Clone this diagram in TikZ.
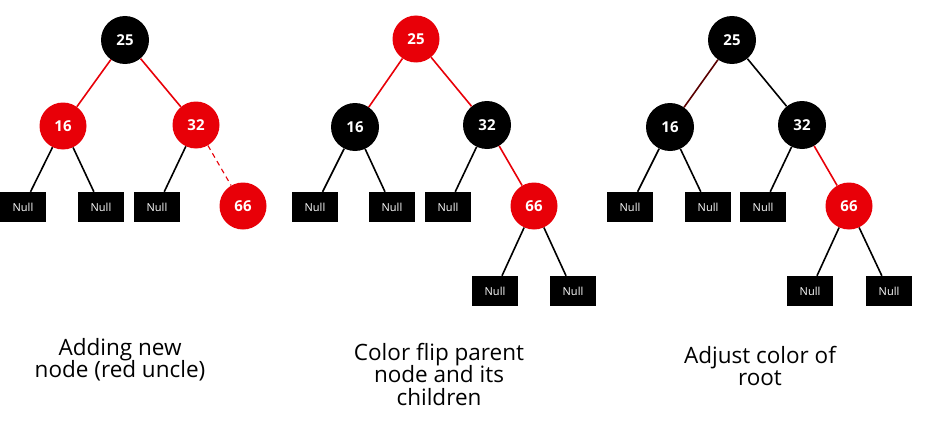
\documentclass[tikz,border=0pt]{standalone}
\usepackage{fontspec}
\setmainfont{Open Sans}
\definecolor{rbred}{RGB}{232,0,8}
\definecolor{darkred}{RGB}{90,0,0}
\begin{document}
\begin{tikzpicture}[x=1pt,y=-1pt,
  blk/.style={circle,fill=black,minimum size=48pt,inner sep=0pt,text=white,font=\fontsize{15}{15}\selectfont\bfseries},
  rd/.style={circle,fill=rbred,minimum size=47pt,inner sep=0pt,text=white,font=\fontsize{15}{15}\selectfont\bfseries},
  nullbox/.style={rectangle,fill=black,minimum width=46pt,minimum height=30pt,inner sep=0pt,text=white,font=\fontsize{11}{11}\selectfont},
  bedge/.style={draw=black,line width=1.6pt},
  redge/.style={draw=rbred,line width=1.6pt},
  caption/.style={align=center,anchor=north,inner sep=0pt,font=\fontsize{22.5}{22.5}\selectfont}
]
\useasboundingbox (0,0) rectangle (928,428);
% Tree 1
\node[blk] (a25) at (125,40) {25};
\node[rd] (a16) at (63,126) {16};
\node[rd] (a32) at (196,125) {32};
\node[nullbox] (an1) at (23,207) {Null};
\node[nullbox] (an2) at (101,207) {Null};
\node[nullbox] (an3) at (157,207) {Null};
\node[rd] (a66) at (243,206) {66};
\draw[redge] (a25) -- (a16);
\draw[redge] (a25) -- (a32);
\draw[bedge] (a16) -- (an1);
\draw[bedge] (a16) -- (an2);
\draw[bedge] (a32) -- (an3);
\draw[draw=rbred,line width=1.1pt,dash pattern=on 5pt off 4pt] (a32) -- (a66);
% Tree 2
\node[rd] (b25) at (416,39) {25};
\node[blk] (b16) at (355,127) {16};
\node[blk] (b32) at (487,125) {32};
\node[nullbox] (bn1) at (315,207) {Null};
\node[nullbox] (bn2) at (392,207) {Null};
\node[nullbox] (bn3) at (448,207) {Null};
\node[rd] (b66) at (534,206) {66};
\node[nullbox] (bn4) at (495,291) {Null};
\node[nullbox] (bn5) at (573,291) {Null};
\draw[redge] (b25) -- (b16);
\draw[redge] (b25) -- (b32);
\draw[bedge] (b16) -- (bn1);
\draw[bedge] (b16) -- (bn2);
\draw[bedge] (b32) -- (bn3);
\draw[redge] (b32) -- (b66);
\draw[bedge] (b66) -- (bn4);
\draw[bedge] (b66) -- (bn5);
% Tree 3
\node[blk] (c25) at (732,40) {25};
\node[blk] (c16) at (670,127) {16};
\node[blk] (c32) at (802,125) {32};
\node[nullbox] (cn1) at (630,207) {Null};
\node[nullbox] (cn2) at (708,207) {Null};
\node[nullbox] (cn3) at (763,207) {Null};
\node[rd] (c66) at (849,206) {66};
\node[nullbox] (cn4) at (810,291) {Null};
\node[nullbox] (cn5) at (889,291) {Null};
\draw[draw=darkred,line width=1.6pt] (c25) -- (c16);
\draw[bedge] (c25) -- (c32);
\draw[bedge] (c16) -- (cn1);
\draw[bedge] (c16) -- (cn2);
\draw[bedge] (c32) -- (cn3);
\draw[redge] (c32) -- (c66);
\draw[bedge] (c66) -- (cn4);
\draw[bedge] (c66) -- (cn5);
% Captions
\node[caption] (cap1) at (120,338) {Adding new\\node (red uncle)};
\node[caption] (cap2) at (439,343) {Color flip parent\\node and its\\children};
\node[caption] (cap3) at (760,346) {Adjust color of\\root};
\end{tikzpicture}
\end{document}
